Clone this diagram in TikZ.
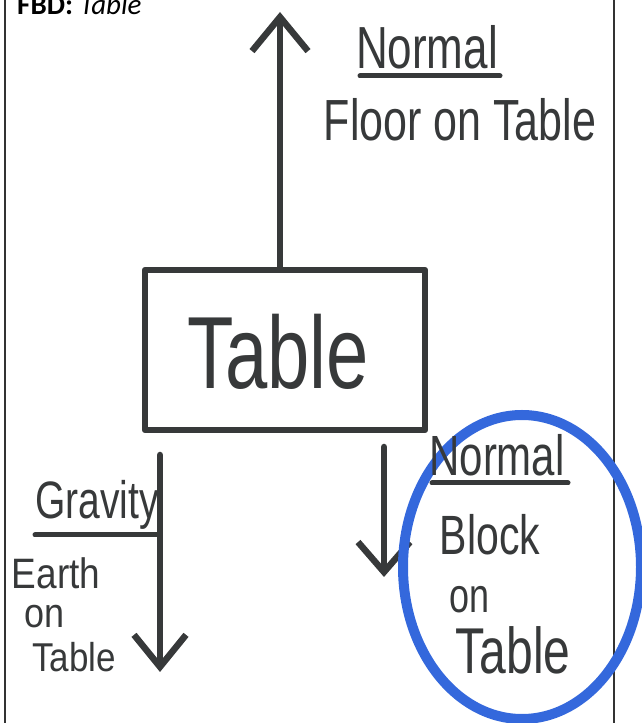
\documentclass[tikz,border=0pt]{standalone}
\usepackage{fontspec}
\usepackage{graphicx}
\setmainfont{Liberation Sans}
\newfontfamily\calfont{Carlito}
\usetikzlibrary{arrows.meta}
\definecolor{ink}{RGB}{55,57,58}
\definecolor{blueink}{RGB}{52,104,220}
\newcommand{\hw}[3][1.35]{{\fontsize{#2}{#2}\selectfont\scalebox{1}[#1]{#3}}}
\tikzset{
  pen/.style={draw=ink, line width=6.5pt, line cap=round, line join=round},
  force/.style={pen, -{Straight Barb[length=34pt,width=56pt]}},
  hand/.style={text=ink, inner sep=0pt},
  border/.style={draw=black!80, line width=1.3pt},
}
\begin{document}
\begin{tikzpicture}[x=1pt,y=1pt]
\useasboundingbox (0,0) rectangle (642,723);
\clip (0,0) rectangle (642,723);
% page borders
\draw[border] (5,0) -- (5,723);
\draw[border] (614,0) -- (614,723);
% title
\node[anchor=base west, inner sep=0pt] (title) at (17,708)
  {\calfont\fontsize{29}{29}\selectfont\textbf{FBD:} \textit{Table}};
% table box
\node[pen, minimum width=280pt, minimum height=160pt, inner sep=0pt] (tbl) at (285,373) {};
\node[hand] (tbltxt) at (278,371) {\hw{76}{Table}};
% upward normal force
\coordinate (upT) at (280,711);
\draw[force] (tbl.north -| upT) -- (upT);
\node[hand] (n1) at (427,676) {\hw{44}{Normal}};
\coordinate (u1a) at (360,647);
\coordinate (u1b) at (500,647);
\draw[pen, line width=5pt] (u1a) -- (u1b);
\node[hand] (fl) at (460,603) {\hw{43}{Floor on Table}};
% gravity
\coordinate (gT) at (160,268);
\coordinate (gB) at (160,51);
\draw[force, -{Straight Barb[length=32pt,width=52pt]}] (gT) -- (gB);
\node[hand] (grav) at (97,218) {\hw{39}{Gravity}};
\coordinate (u2a) at (35,188);
\coordinate (u2b) at (158,188);
\draw[pen, line width=5pt] (u2a) -- (u2b);
\node[hand] (earth) at (56,150) {\hw[1.15]{37}{Earth}};
\node[hand] (on1) at (45,106) {\hw[1.15]{36}{on}};
\node[hand] (tb1) at (74,66) {\hw[1.15]{35}{Table}};
% block normal force
\coordinate (rT) at (384,276);
\coordinate (rB) at (384,146);
\draw[force, -{Straight Barb[length=30pt,width=52pt]}] (rT) -- (rB);
% blue circle
\draw[draw=blueink, line width=10pt] (522,156) ellipse [x radius=119pt, y radius=152pt];
\node[hand] (n2) at (497,268) {\hw{42}{Normal}};
\coordinate (u3a) at (432,240);
\coordinate (u3b) at (568,240);
\draw[pen, line width=5pt] (u3a) -- (u3b);
\node[hand] (blk) at (490,188) {\hw{41}{Block}};
\node[hand] (on2) at (470,123) {\hw{36}{on}};
\node[hand] (tb2) at (513,73) {\hw{48}{Table}};
\end{tikzpicture}
\end{document}
